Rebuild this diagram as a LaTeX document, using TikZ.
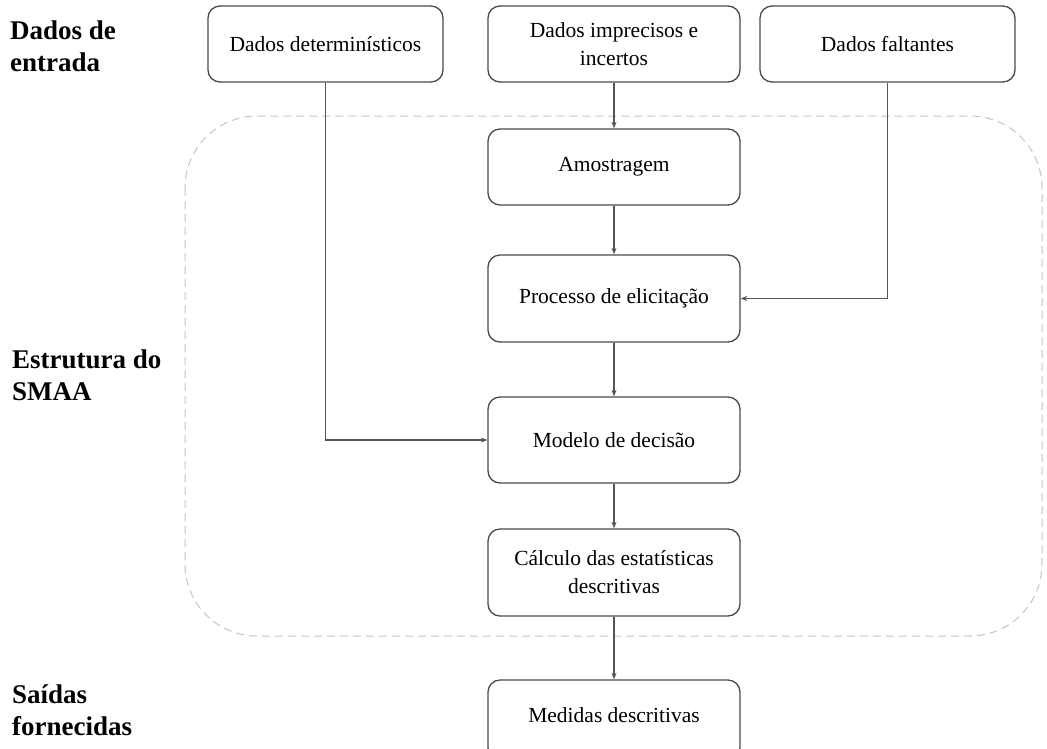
\documentclass[tikz,border=0pt]{standalone}
\usepackage{fontspec}
\setmainfont{Liberation Serif}
\usetikzlibrary{arrows.meta}
\definecolor{boxline}{HTML}{4A4A4A}
\definecolor{arrline}{HTML}{555555}
\definecolor{dashline}{HTML}{C4C4C4}
\tikzset{
  stepbox/.style={draw=boxline, line width=1.3pt, rounded corners=12pt, inner sep=2pt,
    align=center, font=\fontsize{21.5}{28}\selectfont},
  conn/.style={draw=arrline, line width=1.2pt, -{Stealth[length=6.5pt,width=5pt]}},
  sidelabel/.style={anchor=base west, inner sep=0pt, align=left,
    font=\fontsize{27}{32}\selectfont\bfseries},
  frame/.style={draw=dashline, line width=1pt, dash pattern=on 8pt off 5pt, rounded corners=72pt}
}
\begin{document}
\begin{tikzpicture}[x=1pt,y=-1pt]
\useasboundingbox (0,0) rectangle (1047,748);
\draw[frame] (185,116) rectangle (1042,636);
\node[stepbox, minimum width=235pt, minimum height=76pt] (det) at (325.5,44) {Dados determinísticos};
\node[stepbox, minimum width=252pt, minimum height=76pt] (imp) at (614,44) {Dados imprecisos e\\incertos};
\node[stepbox, minimum width=255pt, minimum height=76pt] (fal) at (887.5,44) {Dados faltantes};
\node[stepbox, minimum width=252pt, minimum height=76pt] (amo) at (614,167) {Amostragem};
\node[stepbox, minimum width=252pt, minimum height=87pt] (pro) at (614,298.5) {Processo de elicitação};
\node[stepbox, minimum width=252pt, minimum height=86pt] (mod) at (614,440) {Modelo de decisão};
\node[stepbox, minimum width=252pt, minimum height=87pt] (cal) at (614,572.5) {Cálculo das estatísticas\\descritivas};
\node[stepbox, minimum width=252pt, minimum height=80pt, text depth=10pt] (med) at (614,720) {Medidas descritivas};
\node[sidelabel] (l1) at (10,71) {Dados de\\entrada};
\node[sidelabel] (l2) at (12,400) {Estrutura do\\SMAA};
\node[sidelabel] (l3) at (12,735) {Saídas\\fornecidas};
\draw[conn] (imp) -- (amo);
\draw[conn] (amo) -- (pro);
\draw[conn] (pro) -- (mod);
\draw[conn] (mod) -- (cal);
\draw[conn] (cal) -- (med);
\draw[conn] (det.south) |- (mod.west);
\draw[conn] (fal.south) |- (pro.east);
\end{tikzpicture}
\end{document}
